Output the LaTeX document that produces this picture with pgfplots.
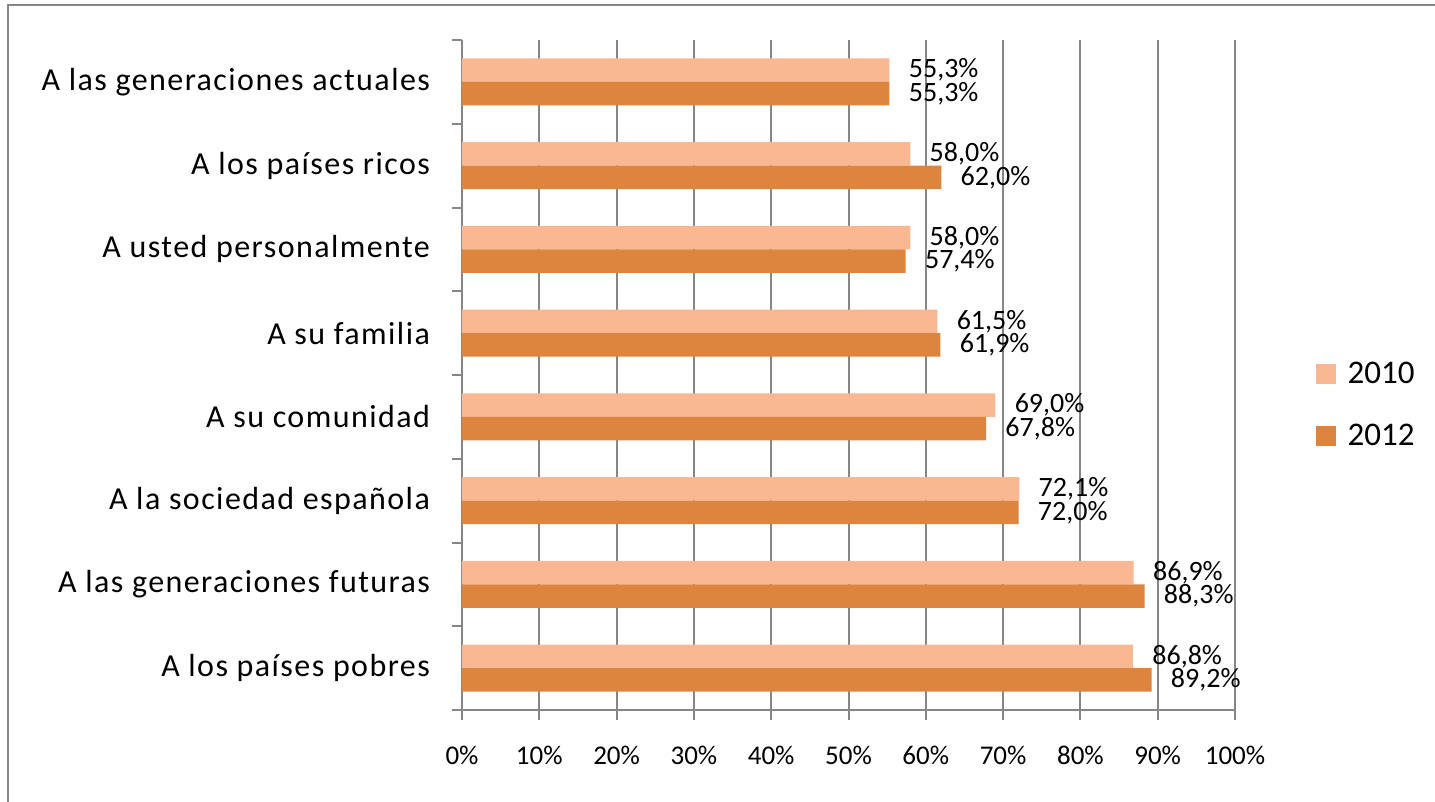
\documentclass[border=0pt]{standalone}
\usepackage{fontspec}
\setmainfont{Carlito}
\newfontfamily\catfont[LetterSpace=4.5]{Carlito}
\usepackage{pgfplots}
\pgfplotsset{compat=1.18}
\definecolor{c2010}{HTML}{F9B792}
\definecolor{c2012}{HTML}{DD843F}
\definecolor{axgray}{HTML}{868686}

\begin{document}
\begin{tikzpicture}[x=0.5pt,y=0.5pt]
\useasboundingbox (0,0) rectangle (1435,802);
% outer chart frame (only top and left edges are visible)
\draw[axgray, line width=1.2pt] (8,0) -- (8,797) -- (1435,797);
\begin{axis}[
  at={(231pt,46pt)}, anchor=south west,
  width=386.5pt, height=335pt, scale only axis,
  xmin=0, xmax=100,
  ymin=-0.5, ymax=7.5, y dir=reverse,
  xbar, bar width=0.28,
  clip=false,
  axis x line*=bottom, axis y line*=left,
  axis line style={axgray, line width=1pt, -},
  tick align=outside,
  tick style={axgray, line width=1pt},
  major tick length=5pt, minor tick length=5pt,
  xtick={0,10,...,100},
  xticklabels={0\%,10\%,20\%,30\%,40\%,50\%,60\%,70\%,80\%,90\%,100\%},
  xticklabel style={font=\fontsize{13.5}{16}\selectfont, yshift=-9.5pt},
  xmajorgrids, grid style={axgray, line width=1pt},
  ytick={0,...,7},
  minor ytick={-0.5,0.5,...,7.5},
  major y tick style={draw=none},
  yticklabels={A las generaciones actuales, A los países ricos, A usted personalmente, A su familia, A su comunidad, A la sociedad española, A las generaciones futuras, A los países pobres},
  yticklabel style={font=\catfont\fontsize{16}{18}\selectfont, xshift=-7.5pt},
  /pgf/number format/assume math mode=true,
  nodes near coords={\pgfmathprintnumber[fixed,fixed zerofill,precision=1,use comma]{\pgfplotspointmeta}\%},
  nodes near coords style={anchor=west, inner sep=0pt, xshift=9.5pt, font=\fontsize{14}{16}\selectfont},
  legend style={at={(1.096,0.455)}, anchor=west, draw=none, fill=none,
    font=\fontsize{16.5}{18}\selectfont, row sep=18.5pt,
    nodes={inner sep=0pt},
    /tikz/every odd column/.append style={column sep=6pt}},
  legend cell align=left,
  legend image code/.code={\fill[#1] (0pt,-5pt) rectangle (10pt,5pt);},
]
\addplot[draw=none, fill=c2010, bar shift=-0.14] coordinates {
  (55.3,0) (58.0,1) (58.0,2) (61.5,3) (69.0,4) (72.1,5) (86.9,6) (86.8,7)
};
\addplot[draw=none, fill=c2012, bar shift=0.14] coordinates {
  (55.3,0) (62.0,1) (57.4,2) (61.9,3) (67.8,4) (72.0,5) (88.3,6) (89.2,7)
};
\legend{2010,2012}
\end{axis}
\end{tikzpicture}
\end{document}
